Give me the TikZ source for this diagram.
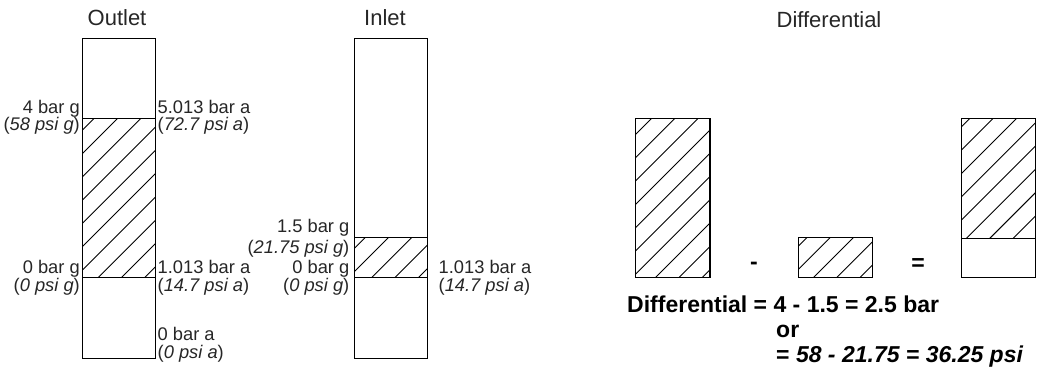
\documentclass[tikz,border=0pt]{standalone}
\usepackage{fontspec}
\setmainfont{Liberation Sans}
\tikzset{
  lbl/.style={inner sep=0pt, font=\fontsize{18.3}{20}\selectfont, text=black!85},
  lblL/.style={lbl, anchor=base east},
  lblR/.style={lbl, anchor=base west},
  ttl/.style={inner sep=0pt, font=\fontsize{22}{26}\selectfont, text=black!85, anchor=base},
  eqn/.style={inner sep=0pt, font=\fontsize{23}{27}\selectfont\bfseries, anchor=base west},
  boxline/.style={draw=black, line width=1.4pt},
  hatchline/.style={draw=black, line width=0.9pt},
}
\newcommand{\hatchrect}[5]{%
  \begin{scope}
    \clip (#1,#2) rectangle (#3,#4);
    \foreach \k in {-1,...,12}{%
      \pgfmathsetmacro{\cc}{#1+#2+#5+23.3*\k}
      \draw[hatchline] ({\cc-#4},#4) -- ({\cc-#2},#2);
    }
  \end{scope}}
\begin{document}
\begin{tikzpicture}[x=1pt,y=-1pt]
\useasboundingbox (0,0) rectangle (1041,390);
% ---------------- Outlet ----------------
\node[ttl] (tOut) at (117,26) {Outlet};
\hatchrect{82.7}{118.3}{155.3}{277.7}{11.6}
\draw[boxline] (82.7,38.7) rectangle (155.3,358.3);
\draw[boxline] (82.7,118.3) -- (155.3,118.3);
\draw[boxline] (82.7,277.7) -- (155.3,277.7);
\node[lblL] (o1) at (80,113.5) {4 bar g};
\node[lblL] (o2) at (80,131) {(\textit{58 psi g})};
\node[lblL] (o3) at (80,273.5) {0 bar g};
\node[lblL] (o4) at (80,291) {(\textit{0 psi g})};
\node[lblR] (o5) at (157.5,113.5) {5.013 bar a};
\node[lblR] (o6) at (157.5,131) {(\textit{72.7 psi a})};
\node[lblR] (o7) at (157.5,273.5) {1.013 bar a};
\node[lblR] (o8) at (157.5,291) {(\textit{14.7 psi a})};
\node[lblR] (o9) at (157.5,340.5) {0 bar a};
\node[lblR] (o10) at (157.5,358.3) {(\textit{0 psi a})};
% ---------------- Inlet ----------------
\node[ttl] (tIn) at (385,26) {Inlet};
\hatchrect{354.3}{237.7}{427.7}{277.7}{10.7}
\draw[boxline] (354.3,38.7) rectangle (427.7,358.3);
\draw[boxline] (354.3,237.7) -- (427.7,237.7);
\draw[boxline] (354.3,277.7) -- (427.7,277.7);
\node[lblL] (i1) at (349.5,232.5) {1.5 bar g};
\node[lblL] (i2) at (349.5,253.5) {(\textit{21.75 psi g})};
\node[lblL] (i3) at (349.5,273.5) {0 bar g};
\node[lblL] (i4) at (349.5,291.5) {(\textit{0 psi g})};
\node[lblR] (i5) at (438.5,273.5) {1.013 bar a};
\node[lblR] (i6) at (438.5,291.5) {(\textit{14.7 psi a})};
% ---------------- Differential ----------------
\node[ttl] (tDiff) at (829,28) {Differential};
\hatchrect{635.7}{118.3}{710}{277.7}{16}
\draw[boxline] (635.7,118.3) rectangle (710,277.7);
\hatchrect{798.7}{237.7}{872.7}{277.7}{8}
\draw[boxline] (798.7,237.7) rectangle (872.7,277.7);
\hatchrect{961.7}{118.3}{1035.3}{238.3}{8.3}
\draw[boxline] (961.7,118.3) rectangle (1035.3,277.7);
\draw[boxline] (961.7,238.3) -- (1035.3,238.3);
\node[inner sep=0pt, font=\fontsize{23}{27}\selectfont\bfseries, anchor=base] (minus) at (754,269) {-};
\node[inner sep=0pt, font=\fontsize{23}{27}\selectfont\bfseries, anchor=base] (equals) at (918,270) {=};
\node[eqn] (e1) at (627,312.5) {Differential = 4 - 1.5 = 2.5 bar};
\node[eqn] (e2) at (776,337) {or};
\node[eqn] (e3) at (776,362) {= \textit{58 - 21.75 = 36.25 psi}};
\end{tikzpicture}
\end{document}
